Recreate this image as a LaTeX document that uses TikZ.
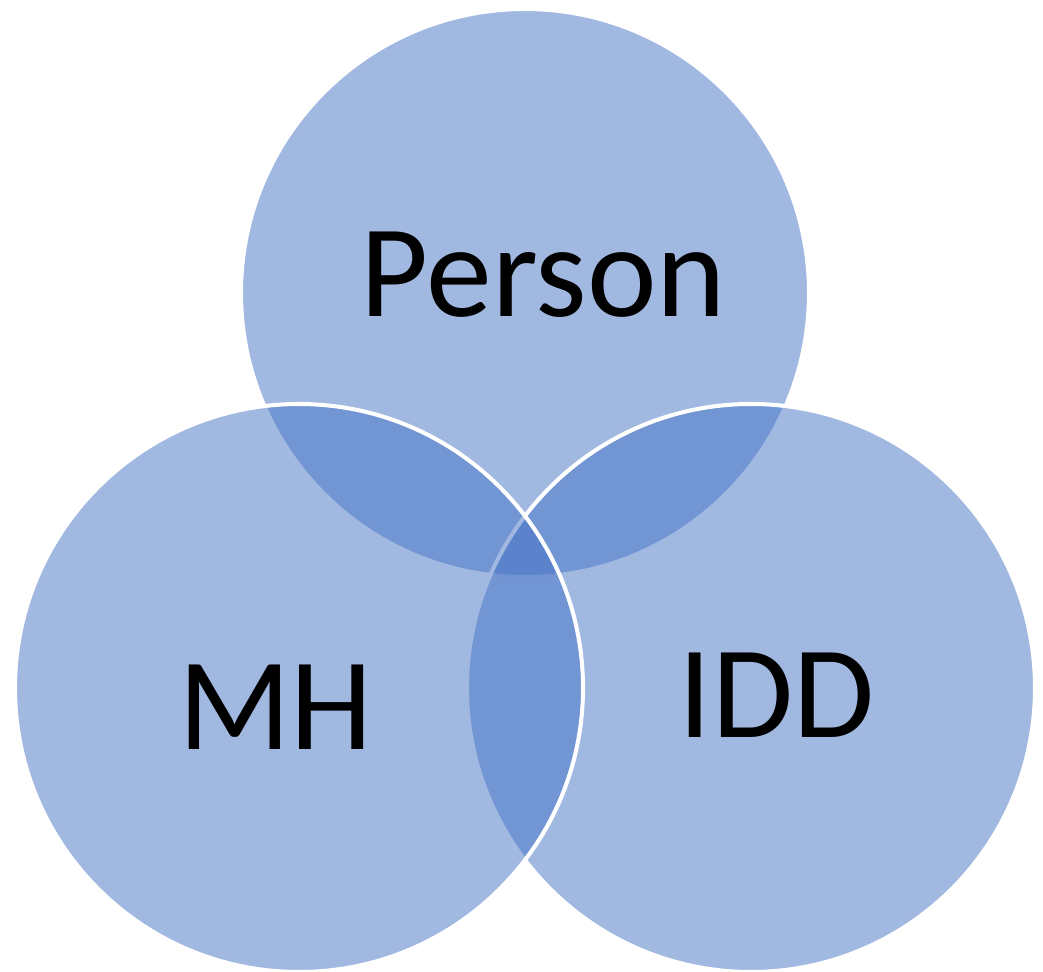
\documentclass[tikz,border=0pt]{standalone}
\usepackage{fontspec}
\setmainfont{Carlito}
\definecolor{accentblue}{HTML}{4472C4}

\begin{document}
\begin{tikzpicture}[
  set/.style={circle, draw=white, line width=2.3pt, fill=accentblue,
              fill opacity=0.5, minimum size=11.36cm, inner sep=0pt, outer sep=0pt},
  lbl/.style={anchor=base, text=black, font=\fontsize{75}{80}\selectfont}
]
  \useasboundingbox (0,0) rectangle (20.86,-19.44);

  % the three sets, top one first
  \node[set] (person) at (10.50,-5.86)  {};
  \node[set] (idd)    at (15.02,-13.76) {};
  \node[set] (mh)     at (5.98,-13.76)  {};

  \node[lbl] (personlbl) at (10.87,-6.34)  {Person};
  \node[lbl] (mhlbl)     at (5.51,-15.00)  {MH};
  \node[lbl] (iddlbl)    at (15.53,-14.76) {IDD};
\end{tikzpicture}
\end{document}
